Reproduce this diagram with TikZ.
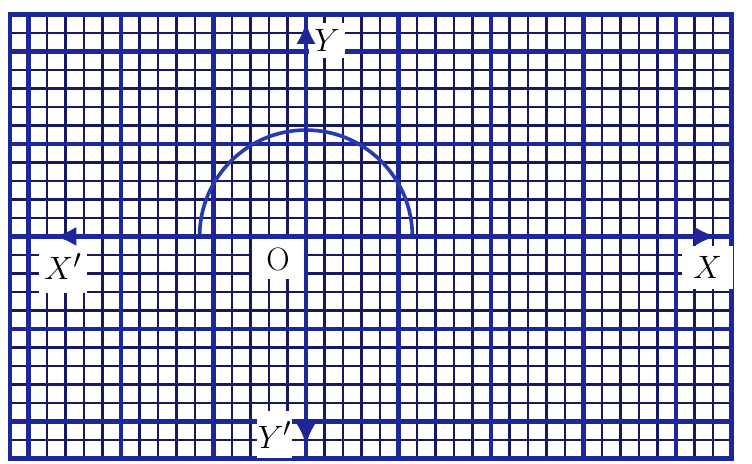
\documentclass[tikz,border=0pt]{standalone}
\usepackage{amsfonts,amssymb}
\usepackage{tikz}
\usetikzlibrary{calc,positioning,arrows.meta}
\definecolor{inkthin}{RGB}{22,24,100}
\definecolor{inkthick}{RGB}{30,38,155}
\definecolor{inkcurve}{RGB}{40,58,175}

\tikzset{
	finegrid/.style={color=inkthin,line width=2pt,step=5mm},
	majorline/.style={color=inkthick,line width=3.2pt},
	axisline/.style={color=inkthick,line width=3.2pt,arrows={Latex[length=17pt,width=15pt]-Latex[length=17pt,width=15pt]}},
	halfcurve/.style={color=inkcurve,line width=2.8pt},
	labelbox/.style={fill=white,inner sep=0pt,font=\Huge},
}

\begin{document}
\begin{tikzpicture}[x=5mm,y=5mm]
				\useasboundingbox (-16.54,-12.25) rectangle (24.11,12.78);
				%\draw[color=red,step=5mm,opacity=0.4] (-16,-12) grid (23,12); %help grids
				\draw[finegrid] (-16,-12) grid (23,12);
				\foreach \u in {-15,-10,...,20} \draw[majorline] (\u,-12) -- (\u,12);
				\foreach \v in {-10,-5,...,10} \draw[majorline] (-16,\v) -- (23,\v);
				\draw[majorline] (-16,-12) rectangle (23,12);
				\draw[halfcurve] (5.75,0) arc[start angle=0,end angle=180,radius=5.75];
				\node[labelbox,minimum width=9.7mm,minimum height=9.5mm] (ylab) at (1.14,10.57) {$Y$};
				\node[labelbox,minimum width=13mm,minimum height=14.6mm] (xneglab) at (-13.14,-1.62) {$X'$};
				\node[labelbox,minimum width=14mm,minimum height=11mm] (olab) at (-1.51,-1.22) {O};
				\node[labelbox,minimum width=13.6mm,minimum height=11.4mm] (xlab) at (21.7,-1.68) {$X$};
				\node[labelbox,minimum width=9.5mm,minimum height=12.7mm] (yneglab) at (-1.70,-10.73) {$Y'$};
				\coordinate (xneg) at (-13.6,0);
				\coordinate (xpos) at (22.2,0);
				\coordinate (yneg) at (0,-11.3);
				\coordinate (ypos) at (0,11.6);
				\draw[axisline] (xneg) -- (xpos);
				\draw[axisline] (yneg) -- (ypos);
\end{tikzpicture}
\end{document}
